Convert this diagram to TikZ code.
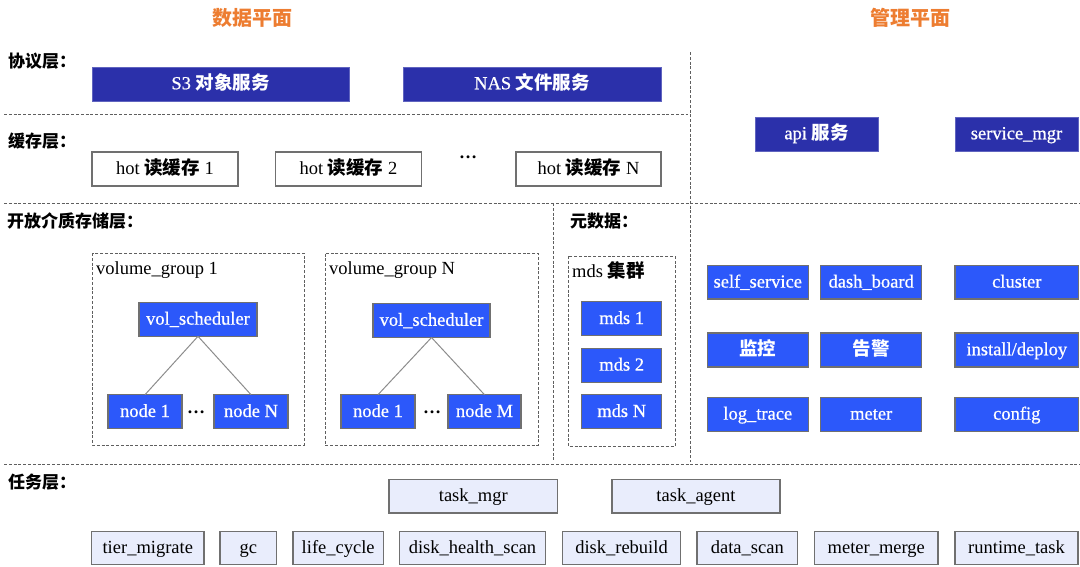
\documentclass[tikz,border=0pt]{standalone}
\usepackage{fontspec}
\setmainfont{Liberation Serif}
\newfontfamily\semib{Liberation Serif}[FakeBold=0.7]
\newfontfamily\cjk{Noto Sans CJK SC}
\newcommand\zh[1]{{\cjk\bfseries #1}}
\definecolor{dkblue}{RGB}{43,48,170}
\definecolor{brblue}{RGB}{44,88,250}
\definecolor{lav}{RGB}{233,237,252}
\definecolor{bgray}{RGB}{112,112,112}
\definecolor{sepgray}{RGB}{95,95,95}
\definecolor{ttl}{RGB}{237,125,49}
\definecolor{lnk}{RGB}{140,140,140}
\begin{document}
\begin{tikzpicture}[x=1pt,y=-1pt,
  base/.style={inner sep=0pt, outer sep=0pt, font=\fontsize{18.5}{20}\selectfont, text height=13pt, text depth=2.4pt, align=center},
  dk/.style={base, fill=dkblue, draw=dkblue!75!white, line width=0.8pt, text=white, font=\semib\fontsize{18.5}{20}\selectfont},
  bb/.style={base, fill=brblue, draw=bgray, line width=1.2pt, text=white, font=\semib\fontsize{18.5}{20}\selectfont},
  wb/.style={base, fill=white, draw=bgray, line width=1.2pt, text=black},
  lb/.style={base, fill=lav, draw=bgray, line width=1.2pt, text=black},
  layer/.style={anchor=west, inner sep=0pt, font=\cjk\bfseries\fontsize{17}{20}\selectfont},
  ttlstyle/.style={inner sep=0pt, font=\cjk\bfseries\fontsize{20}{24}\selectfont, text=ttl},
  sep/.style={draw=sepgray, line width=0.9pt, dash pattern=on 3pt off 1.8pt},
  grp/.style={draw=sepgray, line width=0.9pt, dash pattern=on 3pt off 1.8pt},
  grplabel/.style={anchor=base west, inner sep=0pt, font=\fontsize{18.5}{20}\selectfont},
  dots/.style={anchor=base, inner sep=0pt, font=\bfseries\fontsize{18}{20}\selectfont},
  link/.style={draw=lnk, line width=1pt}
]
\useasboundingbox (0,0) rectangle (1080,566);

% titles
\node[ttlstyle] (t1) at (252,17.5) {数据平面};
\node[ttlstyle] (t2) at (910.7,17.5) {管理平面};

% separators
\draw[sep] (4,114.3) -- (688,114.3);
\draw[sep] (4,203) -- (1080,203);
\draw[sep] (4,464.7) -- (1080,464.7);
\draw[sep] (690.7,52) -- (690.7,461.5);
\draw[sep] (553.3,203) -- (553.3,461.5);

% layer labels
\node[layer] (l1) at (8,61) {协议层：};
\node[layer] (l2) at (8,141) {缓存层：};
\node[layer] (l3) at (7,221) {开放介质存储层：};
\node[layer] (l4) at (570,221) {元数据：};
\node[layer] (l5) at (8,482) {任务层：};

% protocol layer
\node[dk, minimum width=257pt, minimum height=34pt] (s3) at (220.5,84) {S3 \zh{对象服务}};
\node[dk, minimum width=258pt, minimum height=34pt] (nas) at (532,84) {NAS \zh{文件服务}};

% cache layer
\node[wb, minimum width=146pt, minimum height=34pt] (h1) at (165,169) {hot \zh{读缓存} 1};
\node[wb, minimum width=146pt, minimum height=34pt] (h2) at (348.5,169) {hot \zh{读缓存} 2};
\node[dots] (hd) at (468,158.5) {…};
\node[wb, minimum width=145pt, minimum height=34pt] (hn) at (588.5,169) {hot \zh{读缓存} N};

% management top
\node[dk, minimum width=123pt, minimum height=34pt] (api) at (816.5,134) {api \zh{服务}};
\node[dk, minimum width=123pt, minimum height=34pt] (smgr) at (1016.5,134) {service\_mgr};

% volume groups
\draw[grp] (92,253) rectangle (304,445);
\node[grplabel] (g1) at (96,274) {volume\_group 1};
\draw[grp] (325,253.5) rectangle (538.3,445.3);
\node[grplabel] (g2) at (329,274) {volume\_group N};

\node[bb, minimum width=118pt, minimum height=34pt] (vs1) at (198,319.3) {vol\_scheduler};
\node[bb, minimum width=74pt, minimum height=34pt] (n11) at (145,411.7) {node 1};
\node[bb, minimum width=74pt, minimum height=34pt] (n1n) at (251,411.7) {node N};
\node[dots] (d1) at (196,413) {…};
\draw[link] (vs1.south) -- (n11.north);
\draw[link] (vs1.south) -- (n1n.north);

\node[bb, minimum width=117pt, minimum height=34pt] (vs2) at (431.5,320.5) {vol\_scheduler};
\node[bb, minimum width=74pt, minimum height=34pt] (n21) at (378,411.7) {node 1};
\node[bb, minimum width=73pt, minimum height=34pt] (n2m) at (484.5,411.7) {node M};
\node[dots] (d2) at (432,413.5) {…};
\draw[link] (vs2.south) -- (n21.north);
\draw[link] (vs2.south) -- (n2m.north);

% metadata
\draw[grp] (568,256) rectangle (675,446.3);
\node[grplabel] (mg) at (572,277) {mds \zh{集群}};
\node[bb, minimum width=80pt, minimum height=34pt] (m1) at (621.7,318.7) {mds 1};
\node[bb, minimum width=80pt, minimum height=34pt] (m2) at (621.7,365.3) {mds 2};
\node[bb, minimum width=80pt, minimum height=34pt] (mn) at (621.7,411.7) {mds N};

% management grid
\node[bb, minimum width=101pt, minimum height=33.3pt] (ss) at (757.8,282.3) {self\_service};
\node[bb, minimum width=101pt, minimum height=33.3pt] (db) at (871.2,282.3) {dash\_board};
\node[bb, minimum width=123.7pt, minimum height=33.3pt] (cl) at (1016.8,282.3) {cluster};
\node[bb, minimum width=101pt, minimum height=34pt] (jk) at (757.8,350) {\zh{监控}};
\node[bb, minimum width=101pt, minimum height=34pt] (gj) at (871.2,350) {\zh{告警}};
\node[bb, minimum width=123.7pt, minimum height=34pt] (ins) at (1016.8,350) {install/deploy};
\node[bb, minimum width=101pt, minimum height=34pt] (lt) at (757.8,414.3) {log\_trace};
\node[bb, minimum width=101pt, minimum height=34pt] (mt) at (871.2,414.3) {meter};
\node[bb, minimum width=123.7pt, minimum height=34pt] (cf) at (1016.8,414.3) {config};

% task layer
\node[lb, minimum width=168.7pt, minimum height=33.3pt] (tm) at (473.3,496.3) {task\_mgr};
\node[lb, minimum width=168pt, minimum height=33.3pt] (ta) at (696,496.3) {task\_agent};

\node[lb, minimum width=112.3pt, minimum height=33.3pt] (b1) at (147.8,548) {tier\_migrate};
\node[lb, minimum width=56.7pt, minimum height=33.3pt] (b2) at (248.3,548) {gc};
\node[lb, minimum width=90.3pt, minimum height=33.3pt] (b3) at (338.2,548) {life\_cycle};
\node[lb, minimum width=146.3pt, minimum height=33.3pt] (b4) at (472.5,548) {disk\_health\_scan};
\node[lb, minimum width=118.3pt, minimum height=33.3pt] (b5) at (621.5,548) {disk\_rebuild};
\node[lb, minimum width=100.7pt, minimum height=33.3pt] (b6) at (747.3,548) {data\_scan};
\node[lb, minimum width=123.3pt, minimum height=33.3pt] (b7) at (876.3,548) {meter\_merge};
\node[lb, minimum width=123pt, minimum height=33.3pt] (b8) at (1016.5,548) {runtime\_task};
\end{tikzpicture}
\end{document}
